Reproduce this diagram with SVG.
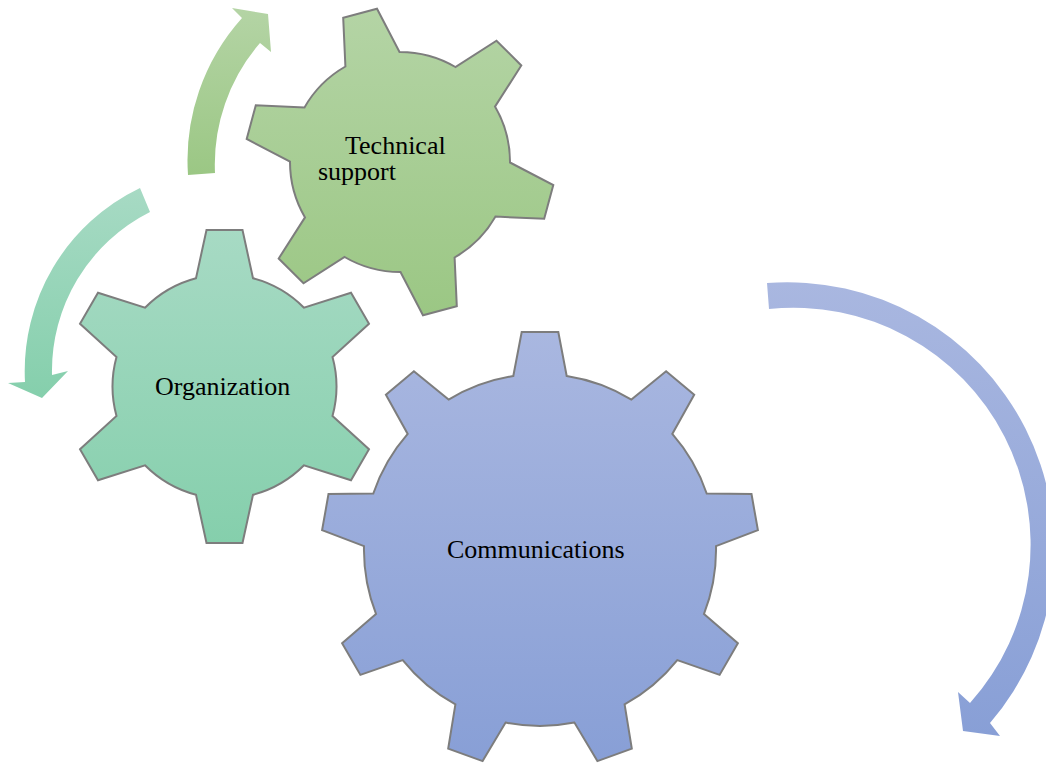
<svg xmlns="http://www.w3.org/2000/svg" width="1046" height="763" viewBox="0 0 1046 763">
  <defs>
    <linearGradient id="gGreen" x1="0" y1="0" x2="0" y2="1">
      <stop offset="0" stop-color="#b4d4a5"/>
      <stop offset="1" stop-color="#9bc784"/>
    </linearGradient>
    <linearGradient id="gTeal" x1="0" y1="0" x2="0" y2="1">
      <stop offset="0" stop-color="#a7dac4"/>
      <stop offset="1" stop-color="#85cfac"/>
    </linearGradient>
    <linearGradient id="gBlue" x1="0" y1="0" x2="0" y2="1">
      <stop offset="0" stop-color="#a9b7e0"/>
      <stop offset="1" stop-color="#889fd6"/>
    </linearGradient>
  </defs>
  <style>
    .gear { stroke: #7d7d7d; stroke-width: 2; stroke-linejoin: miter; }
    .arrow { stroke: none; }
    .label { font-family: "Liberation Serif", "Times New Roman", serif; font-size: 26px; fill: #000000; }
  </style>

  <g id="connectors">
    <path id="arrow-green" class="arrow" fill="url(#gGreen)" d="M 188 175 A 213 213 0 0 1 242 18 L 232 8 L 268 14 L 271 52 L 260 43 A 186 186 0 0 0 215 173 Z"/>
    <path id="arrow-teal" class="arrow" fill="url(#gTeal)" d="M 140 188 A 203 203 0 0 0 25 382 L 8 383 L 42 398 L 68 371 L 52 375 A 178 178 0 0 1 150 212 Z"/>
    <path id="arrow-blue" class="arrow" fill="url(#gBlue)" d="M 767 283 A 267 267 0 0 1 990 723 L 1000 736 L 963 731 L 958 692 L 970 703 A 237 237 0 0 0 769 309 Z"/>
  </g>

  <g id="node-technical-support">
    <path class="gear" fill="url(#gGreen)" d="M 510.0 162.5 L 553.3 185.0 L 544.2 218.8 L 495.5 216.6 A 110 110 0 0 1 454.6 257.5 L 456.8 306.2 L 423.0 315.3 L 400.5 272.0 A 110 110 0 0 1 344.6 257.0 L 303.5 283.3 L 278.7 258.5 L 305.0 217.4 A 110 110 0 0 1 290.0 161.5 L 246.7 139.0 L 255.8 105.2 L 304.5 107.4 A 110 110 0 0 1 345.4 66.5 L 343.2 17.8 L 377.0 8.7 L 399.5 52.0 A 110 110 0 0 1 455.4 67.0 L 496.5 40.7 L 521.3 65.5 L 495.0 106.6 A 110 110 0 0 1 510.0 162.5 Z"/>
    <text class="label" x="345" y="154">Technical</text>
    <text class="label" x="318" y="180">support</text>
  </g>

  <g id="node-organization">
    <path class="gear" fill="url(#gTeal)" d="M 332.5 416.0 L 369.0 449.2 L 351.0 480.3 L 304.0 465.3 A 112 112 0 0 1 253.0 494.8 L 242.5 543.0 L 206.5 543.0 L 196.0 494.8 A 112 112 0 0 1 145.0 465.3 L 98.0 480.3 L 80.0 449.2 L 116.5 416.0 A 112 112 0 0 1 116.5 357.0 L 80.0 323.8 L 98.0 292.7 L 145.0 307.7 A 112 112 0 0 1 196.0 278.2 L 206.5 230.0 L 242.5 230.0 L 253.0 278.2 A 112 112 0 0 1 304.0 307.7 L 351.0 292.7 L 369.0 323.8 L 332.5 357.0 A 112 112 0 0 1 332.5 416.0 Z"/>
    <text class="label" x="155" y="395">Organization</text>
  </g>

  <g id="node-communications">
    <path class="gear" fill="url(#gBlue)" d="M 704.0 613.9 L 737.9 643.2 L 719.6 674.9 L 677.3 660.1 A 176 176 0 0 1 624.6 704.4 L 631.8 748.6 L 597.4 761.1 L 574.4 722.6 A 176 176 0 0 1 505.6 722.6 L 482.6 761.1 L 448.2 748.6 L 455.4 704.4 A 176 176 0 0 1 402.7 660.1 L 360.4 674.9 L 342.1 643.2 L 376.0 613.9 A 176 176 0 0 1 364.0 546.1 L 322.1 530.2 L 328.5 494.1 L 373.3 493.5 A 176 176 0 0 1 407.7 433.9 L 385.9 394.8 L 413.9 371.3 L 448.6 399.6 A 176 176 0 0 1 513.3 376.0 L 521.7 332.0 L 558.3 332.0 L 566.7 376.0 A 176 176 0 0 1 631.4 399.6 L 666.1 371.3 L 694.2 394.8 L 672.3 433.9 A 176 176 0 0 1 706.7 493.5 L 751.5 494.1 L 757.9 530.2 L 716.0 546.1 A 176 176 0 0 1 704.0 613.9 Z"/>
    <text class="label" x="447" y="558">Communications</text>
  </g>
</svg>
